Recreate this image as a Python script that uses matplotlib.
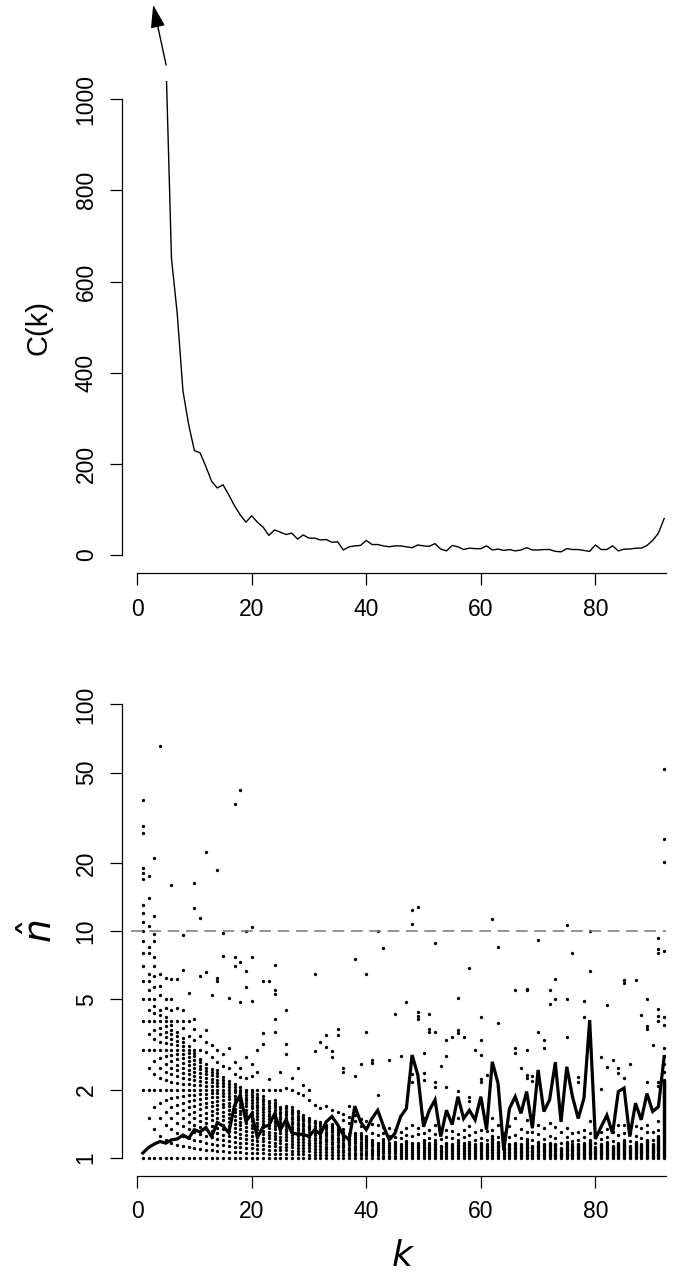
import numpy as np
import matplotlib
matplotlib.use('Agg')
import matplotlib.pyplot as plt

plt.rcParams['font.family'] = ['Liberation Sans', 'DejaVu Sans']

# ---- top panel : C(k) ----
ck_k = list(range(5, 93))
ck_val = [1100, 650, 530, 360, 286, 229, 224, 194, 162, 147, 154, 132, 108, 88, 72, 86,
          72, 61, 43, 55, 50, 45, 48, 35, 44, 37, 37, 33, 34, 28, 29, 11, 18, 20, 21, 32,
          23, 23, 20, 18, 20, 20, 18, 16, 22, 20, 19, 25, 13, 9, 21, 18, 12, 15, 14, 14,
          20, 11, 13, 10, 12, 9, 11, 16, 11, 11, 12, 12, 8, 7, 14, 12, 12, 10, 8, 22,
          12, 12, 20, 9, 13, 13, 15, 15, 21, 32, 48, 80]

# ---- bottom panel : n-hat ----
k_vals = list(range(1, 93))
nhat_mean = [1.05, 1.11, 1.15, 1.18, 1.16, 1.20, 1.21, 1.26, 1.22, 1.33, 1.30, 1.36, 1.24,
             1.43, 1.38, 1.29, 1.70, 1.89, 1.45, 1.56, 1.23, 1.37, 1.39, 1.56, 1.33, 1.47,
             1.29, 1.27, 1.27, 1.24, 1.33, 1.27, 1.44, 1.52, 1.40, 1.26, 1.20, 1.69, 1.44,
             1.33, 1.49, 1.62, 1.38, 1.20, 1.28, 1.52, 1.65, 2.84, 2.32, 1.37, 1.62, 1.80,
             1.24, 1.62, 1.40, 1.86, 1.49, 1.62, 1.47, 1.86, 1.33, 2.65, 2.13, 1.08, 1.65,
             1.86, 1.57, 1.96, 1.35, 2.44, 1.60, 1.80, 2.63, 1.44, 2.52, 1.86, 1.49, 1.83,
             4.05, 1.21, 1.37, 1.54, 1.28, 1.96, 2.03, 1.24, 1.74, 1.47, 1.92, 1.60, 1.68, 2.79]

# top of the solid block of estimates (n-hat = m/k, all m from k up to here)
band_top = [13, 6, 5, 4.5, 4.2, 4, 3.6, 3.4, 3.1, 3.0, 2.75, 2.6, 2.5, 2.4, 2.3, 2.2, 2.1,
            2.05, 2.0, 2.0, 1.9, 1.85, 1.8, 1.8, 1.7, 1.7, 1.65, 1.6, 1.55, 1.5, 1.45, 1.45,
            1.4, 1.4, 1.38, 1.33, 1.28, 1.3, 1.27, 1.26,
            1.2, 1.16, 1.2, 1.15, 1.17, 1.15, 1.2, 1.16, 1.17, 1.2, 1.15, 1.2, 1.13, 1.17,
            1.15, 1.2, 1.15, 1.17, 1.15, 1.17, 1.15, 1.24, 1.17, 1.11, 1.15, 1.17, 1.15, 1.2,
            1.13, 1.17, 1.15, 1.17, 1.15, 1.11, 1.17, 1.15, 1.15, 1.17, 1.2, 1.11, 1.15, 1.17,
            1.13, 1.17, 1.2, 1.13, 1.17, 1.15, 1.2, 1.15, 1.24, 2.2]

# scattered estimates above the block
extra_vals = [
    [17, 18, 19, 27, 29, 38],
    [6.5, 8, 8.5, 10.5, 14, 17.5],
    [5.67, 6.33, 7, 7.67, 9, 9.67, 11.67, 21],
    [5.25, 5.75, 6.5, 65.75],
    [4.6, 5.0, 6.2],
    [4.5, 5.0, 6.17, 16],
    [4.0, 4.57, 6.14],
    [3.75, 4.0, 4.5, 6.75, 9.625],
    [3.44, 4.0, 5.33],
    [3.3, 3.7, 4.1, 12.6, 16.3],
    [3.0, 3.45, 6.36, 11.45],
    [2.92, 3.25, 3.67, 6.58, 22.4],
    [2.77, 3.15, 5.23],
    [2.64, 3.0, 6.0, 6.21, 18.6],
    [2.53, 2.87, 7.8, 9.8],
    [2.5, 3.06, 5.06],
    [2.35, 2.65, 7.0, 7.65, 36.3],
    [2.28, 2.5, 4.89, 7.28, 41.8],
    [2.26, 2.79, 5.68, 6.68, 10.0],
    [2.3, 2.6, 4.9, 7.65, 10.4],
    [2.0, 2.38, 3.0],
    [2.0, 3.18, 3.55, 6.0],
    [2.0, 2.22, 6.0],
    [2.0, 3.58, 4.08, 5.29, 5.5, 7.08],
    [2.0, 2.4],
    [2.04, 2.88, 3.19, 4.5],
    [2.0, 2.26],
    [1.93, 2.5],
    [1.9, 2.1],
    [1.8, 2.0],
    [1.71, 2.97, 6.48],
    [1.66, 3.25],
    [1.7, 3.09, 3.48],
    [1.62, 2.79, 2.97],
    [1.6, 3.49, 3.71],
    [1.47, 1.56, 2.39, 2.5],
    [1.43, 1.51, 1.7],
    [1.45, 1.55, 2.29, 7.55],
    [1.38, 1.49, 2.59],
    [1.35, 1.45, 3.6, 6.5],
    [1.29, 1.41, 2.61, 2.71],
    [1.26, 1.4, 1.9, 10.0],
    [1.28, 1.37, 8.4],
    [1.25, 1.36, 2.7],
    [1.24, 1.33, 4.29],
    [1.22, 1.3, 2.8],
    [1.26, 1.36, 4.89],
    [1.25, 1.4, 2.17, 2.35, 10.7, 12.4],
    [1.27, 1.35, 4.08, 4.24, 4.41, 12.8],
    [1.28, 1.5, 2.2, 2.36, 2.9],
    [1.22, 1.33, 3.59, 3.71, 4.31],
    [1.27, 1.4, 2.06, 2.17, 3.58, 8.9],
    [1.21, 1.3, 2.55],
    [1.24, 1.33, 2.06, 2.8, 3.3],
    [1.22, 1.31, 3.4],
    [1.27, 1.5, 1.98, 3.54, 3.66, 5.09],
    [1.23, 1.33, 3.4],
    [1.26, 1.38, 1.78, 1.86, 6.9],
    [1.2, 1.3, 3.0],
    [1.22, 1.33, 2.17, 2.23, 2.83, 3.3, 4.2],
    [1.2, 1.31, 2.31],
    [1.33, 1.5, 11.3],
    [1.24, 1.4, 2.06, 3.94, 8.49],
    [1.16, 1.28],
    [1.23, 1.38],
    [1.26, 1.5, 2.91, 3.06, 5.5],
    [1.22, 1.34, 2.49],
    [1.3, 1.47, 2.24, 2.31, 3.0, 5.5, 5.56],
    [1.2, 1.3, 2.19, 2.29],
    [1.27, 1.4, 2.13, 3.6, 9.1],
    [1.21, 1.35, 3.04, 3.31],
    [1.25, 1.42, 4.75, 5.5],
    [1.22, 1.37, 2.63, 5.0, 6.16],
    [1.16, 1.3],
    [1.24, 1.36, 2.4, 3.4, 5.0, 10.6],
    [1.18, 1.28, 8.0],
    [1.2, 1.3, 2.17, 2.27],
    [1.23, 1.33, 4.19, 4.9],
    [1.29, 1.46, 6.7, 10.0],
    [1.16, 1.25],
    [1.21, 1.3, 2.02, 2.79],
    [1.24, 1.34, 2.52, 4.7],
    [1.19, 1.3, 2.71],
    [1.26, 1.4, 2.36, 2.49],
    [1.28, 1.4, 2.24, 5.89, 6.07],
    [1.19, 1.28, 2.58],
    [1.25, 1.38, 6.07],
    [1.22, 1.35, 4.26],
    [1.3, 1.4, 2.17, 3.69, 3.82, 5.0],
    [1.2, 1.3, 3.13],
    [1.32, 1.46, 2.07, 2.16, 4.0, 4.22, 4.55, 7.99, 8.3, 9.35],
    [2.4, 2.6, 2.8, 3.04, 3.85, 4.2, 8.2, 20.2, 25.5, 51.7],
]

# collect all points for the scatter
pts_x = []
pts_y = []
for i, k in enumerate(k_vals):
    m_top = int(round(band_top[i] * k))
    for m in range(k, m_top + 1):
        pts_x.append(k)
        pts_y.append(m / k)
    for v in extra_vals[i]:
        pts_x.append(k)
        pts_y.append(v)

fig = plt.figure(figsize=(6.85, 12.85), dpi=100)
xlim = (-2.64, 95.64)

# top
ax1 = fig.add_axes([0.1781, 0.5539, 0.8219, 0.3831])
ax1.plot(ck_k, ck_val, color='black', lw=1.0)
ax1.set_xlim(xlim)
ax1.set_ylim(-40, 1040)
ax1.annotate('', xy=(2.8, 1207), xytext=(5.06, 1075),
             arrowprops=dict(arrowstyle='-|>,head_length=0.7,head_width=0.22', color='black',
                             lw=1.0, shrinkA=0, shrinkB=0, mutation_scale=20),
             annotation_clip=False)
ax1.set_yticks([0, 200, 400, 600, 800, 1000])
ax1.set_xticks([0, 20, 40, 60, 80])
ax1.set_ylabel('C(k)', fontsize=21, va='center')
ax1.yaxis.set_label_coords(-0.149, 0.5)
ax1.spines['top'].set_visible(False)
ax1.spines['right'].set_visible(False)
ax1.spines['left'].set_bounds(0, 1000)
ax1.spines['bottom'].set_bounds(0, 92.4)

# bottom
ax2 = fig.add_axes([0.1781, 0.0849, 0.8219, 0.381])
ax2.set_yscale('log')
ax2.plot(pts_x, pts_y, 'o', color='black', ms=2.4, mew=0, clip_on=False)
ax2.plot(k_vals, nhat_mean, color='black', lw=2.3, solid_joinstyle='miter')
ax2.plot([-1.05, 92.3], [10, 10], color='#808080', lw=1.2, dashes=(7, 4))
ax2.set_xlim(xlim)
ax2.set_ylim(10 ** -0.08, 10 ** 2.08)
ax2.set_yticks([1, 2, 5, 10, 20, 50, 100])
ax2.set_yticklabels(['1', '2', '5', '10', '20', '50', '100'])
ax2.yaxis.set_minor_locator(matplotlib.ticker.NullLocator())
ax2.set_xticks([0, 20, 40, 60, 80])
ax2.set_ylabel(r'$\hat{n}$', fontsize=27, va='center')
ax2.yaxis.set_label_coords(-0.146, 0.5)
ax2.set_xlabel(r'$k$', fontsize=26, va='center')
ax2.xaxis.set_label_coords(0.5, -0.165)
ax2.spines['top'].set_visible(False)
ax2.spines['right'].set_visible(False)
ax2.spines['left'].set_bounds(1, 100)
ax2.spines['bottom'].set_bounds(0, 92.4)

for ax in (ax1, ax2):
    ax.tick_params(axis='both', length=8.5, width=0.9, labelsize=16.5, pad=9)
    ax.tick_params(axis='y', labelrotation=90)
    for lab in ax.get_yticklabels():
        lab.set_va('center')
    for sp in ('left', 'bottom'):
        ax.spines[sp].set_linewidth(0.9)

fig.savefig('out.png', dpi=100)
